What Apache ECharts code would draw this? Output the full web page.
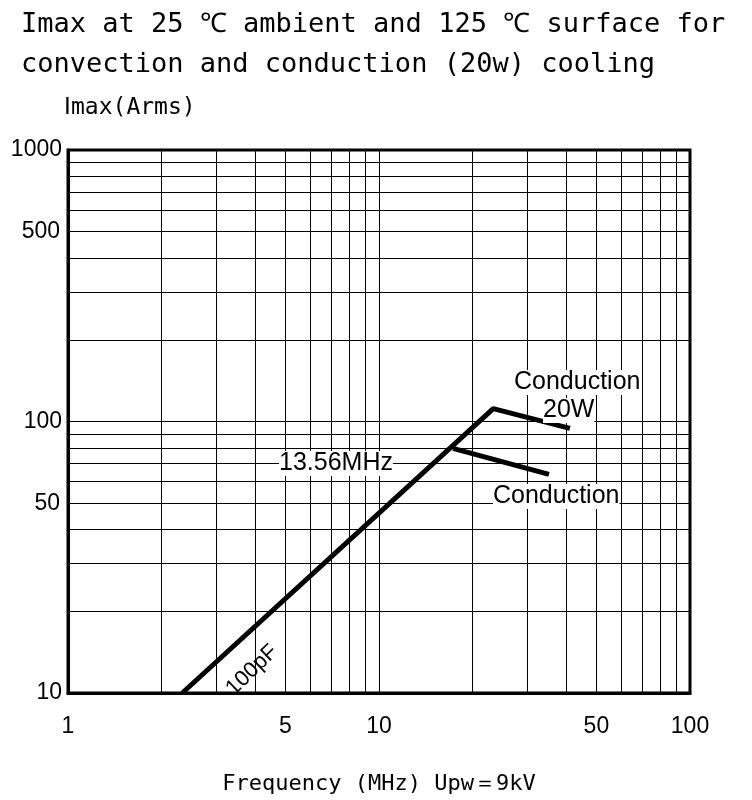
<!DOCTYPE html>
<html><head><meta charset="utf-8">
<script src="https://cdn.jsdelivr.net/npm/echarts@6/dist/echarts.min.js"></script>
<style>html,body{margin:0;padding:0;background:#fff}#c{width:752px;height:800px}</style>
</head><body><div id="c"></div>
<script>
const mainLine = [[2.33,10],[23.3,111.6],[41.1,94.3]];
const branchLine = [[17.3,79.6],[35.2,63.9]];
const xMinor = [2,3,4,5,6,7,8,9,20,30,40,50,60,70,80,90];
const yMinor = [20,30,40,50,60,70,80,90,200,300,400,500,600,700,800,900];
const extraLabels = [5,50,500];
const F = '"DejaVu Sans Mono", monospace';
const chart = echarts.init(document.getElementById('c'));
const ml = (axis, v) => {
  const d = {}; d[axis] = v;
  d.label = {show: extraLabels.includes(v), formatter: String(v), position: 'start',
    fontSize: 23, color:'#000', fontFamily:'Liberation Sans, Arial',
    distance: axis==='xAxis' ? 22 : 8};
  return d;
};
chart.setOption({
  animation:false,
  title:{text:'Imax at 25 ℃ ambient and 125 ℃ surface for\nconvection and conduction (20w) cooling',
    left:16, top:0, textStyle:{fontFamily:F, fontSize:27, fontWeight:'normal', color:'#000', lineHeight:40}},
  grid:{left:68, right:62, top:150, bottom:104, show:true, borderColor:'#000', borderWidth:3},
  xAxis:{type:'log', logBase:10, min:1, max:100,
    name:'Frequency (MHz) Upw＝9kV', nameLocation:'middle', nameGap:80,
    nameTextStyle:{fontFamily:F, fontSize:22, color:'#000'},
    axisLine:{lineStyle:{color:'#000', width:3}}, axisTick:{show:false},
    axisLabel:{fontSize:23, color:'#000', margin:22, fontFamily:'Liberation Sans, Arial', formatter:v=>String(v)},
    splitLine:{show:true, lineStyle:{color:'#000', width:1}}},
  yAxis:{type:'log', logBase:10, min:10, max:1000,
    name:'Ⅰmax(Arms)', nameLocation:'end', nameGap:30,
    nameTextStyle:{fontFamily:F, fontSize:23, color:'#000', align:'left', padding:[0,0,0,-4]},
    axisLine:{lineStyle:{color:'#000', width:3}}, axisTick:{show:false},
    axisLabel:{fontSize:23, color:'#000', margin:6, fontFamily:'Liberation Sans, Arial', formatter:v=>String(v)},
    splitLine:{show:true, lineStyle:{color:'#000', width:1}}},
  series:[
    {type:'line', data:mainLine, symbol:'none', lineStyle:{color:'#000', width:5}, z:5,
     markLine:{silent:true, symbol:'none', lineStyle:{color:'#000', width:1, type:'solid'},
       data:[...xMinor.map(v=>ml('xAxis',v)), ...yMinor.map(v=>ml('yAxis',v))]}},
    {type:'line', data:branchLine, symbol:'none', lineStyle:{color:'#000', width:5}, z:5}
  ],
  graphic:[
    {type:'text', left:514, top:370, z:10, style:{text:'Conduction', font:'25px "Liberation Sans"', fill:'#000', backgroundColor:'#fff'}},
    {type:'text', left:543, top:398, z:10, style:{text:'20W', font:'25px "Liberation Sans"', fill:'#000', backgroundColor:'#fff'}},
    {type:'text', left:493, top:484, z:10, style:{text:'Conduction', font:'25px "Liberation Sans"', fill:'#000', backgroundColor:'#fff'}},
    {type:'text', left:279, top:451, z:10, style:{text:'13.56MHz', font:'25px "Liberation Sans"', fill:'#000', backgroundColor:'#fff'}},
    {type:'text', x:222, y:684, rotation:Math.PI/4.1, z:10, style:{text:'100pF', font:'22px "Liberation Sans"', fill:'#000'}}
  ]
});
</script></body></html>
